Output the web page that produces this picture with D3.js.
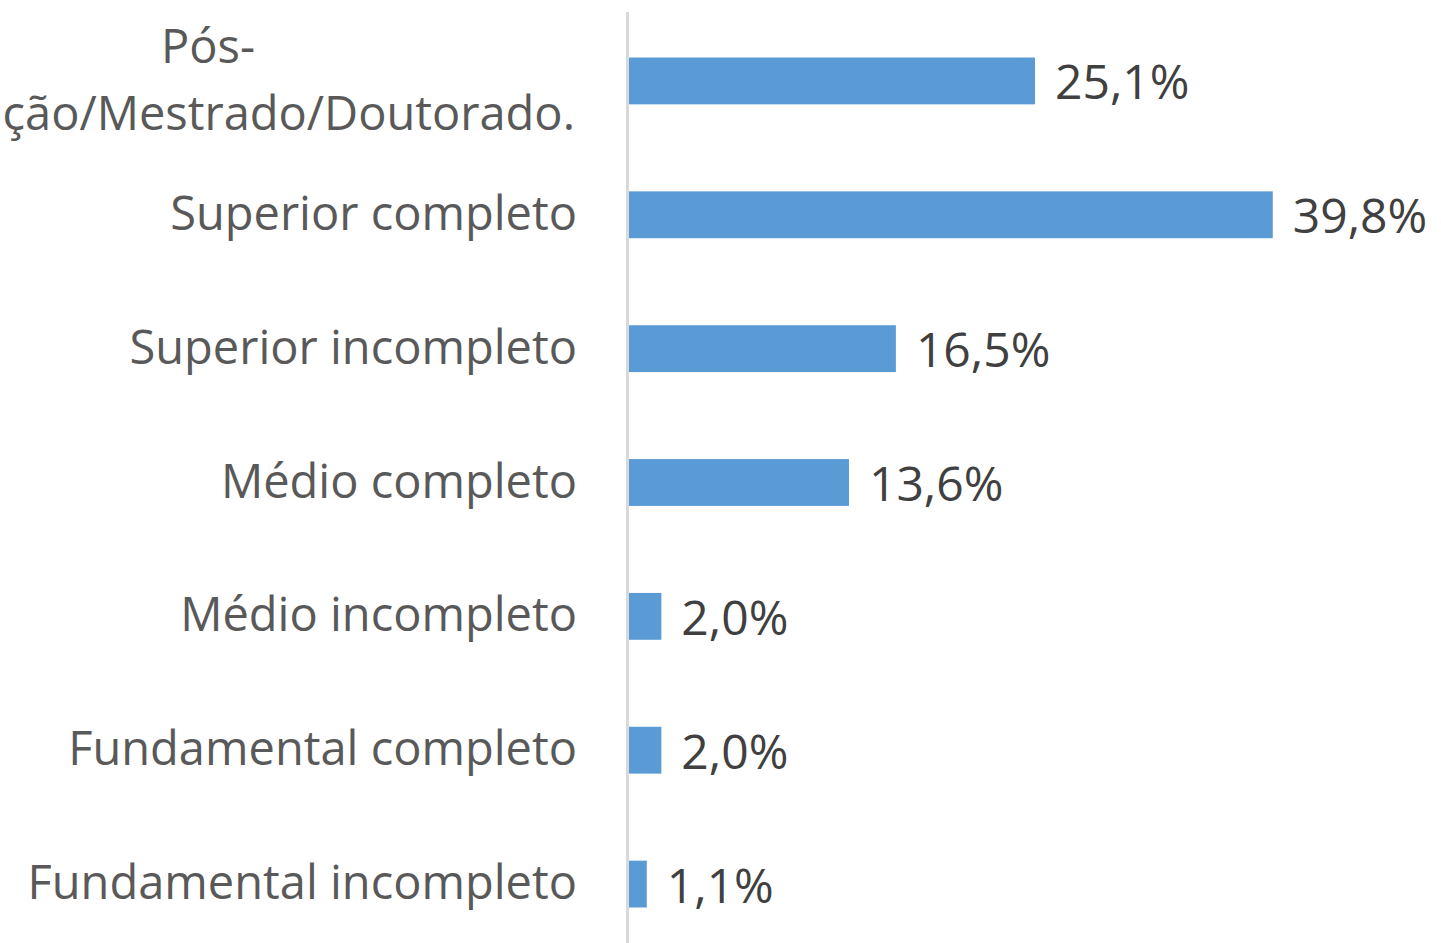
<!DOCTYPE html>
<html><head><meta charset="utf-8">
<script src="https://cdn.jsdelivr.net/npm/d3@7"></script>
<style>html,body{margin:0;padding:0;background:#fff;overflow:hidden}</style>
</head><body>
<svg id="chart" width="1441" height="943"></svg>
<script>
const categories = ["Pós-graduação/Mestrado/Doutorado.","Superior completo","Superior incompleto","Médio completo","Médio incompleto","Fundamental completo","Fundamental incompleto"];
const labelLines = [["Pós-","graduação/Mestrado/Doutorado."],["Superior completo"],["Superior incompleto"],["Médio completo"],["Médio incompleto"],["Fundamental completo"],["Fundamental incompleto"]];
const values = [25.1, 39.8, 16.5, 13.6, 2.0, 2.0, 1.1];
const valueLabels = ["25,1%","39,8%","16,5%","13,6%","2,0%","2,0%","1,1%"];

const svg = d3.select("#chart");
const font = "'Open Sans', sans-serif";
const fs = 47;
const fsVal = 48;
const x = d3.scaleLinear().domain([0, 40]).range([629, 629 + 647]);
const y = d3.scaleBand().domain(categories).range([14, 951]).paddingInner(0.65).paddingOuter(0.325);

svg.append("line").attr("x1", 627.5).attr("x2", 627.5).attr("y1", 12).attr("y2", 943)
  .attr("stroke", "#d9d9d9").attr("stroke-width", 3);

svg.selectAll("rect.bar").data(values).join("rect").attr("class","bar")
  .attr("x", x(0)).attr("y", (d,i) => y(categories[i]))
  .attr("width", d => x(d) - x(0)).attr("height", y.bandwidth())
  .attr("fill", "#5b9bd5");

svg.selectAll("text.val").data(values).join("text").attr("class","val")
  .attr("x", d => x(d) + 20).attr("y", (d,i) => y(categories[i]) + y.bandwidth()/2 + 18.5)
  .attr("font-family", font).attr("font-size", fsVal).attr("fill", "#404040")
  .text((d,i) => valueLabels[i]);

labelLines.forEach((lines, i) => {
  const cy = y(categories[i]) + y.bandwidth()/2;
  if (lines.length === 1) {
    svg.append("text").attr("x", 577).attr("y", cy + 15).attr("text-anchor","end")
      .attr("font-family", font).attr("font-size", fs).attr("fill", "#595959").text(lines[0]);
  } else {
    svg.append("text").attr("x", 208).attr("y", 63).attr("text-anchor","middle")
      .attr("font-family", font).attr("font-size", fs).attr("fill", "#595959").text(lines[0]);
    svg.append("text").attr("x", 575).attr("y", 130).attr("text-anchor","end")
      .attr("font-family", font).attr("font-size", fs).attr("fill", "#595959").text(lines[1]);
  }
});
</script>
</body></html>
